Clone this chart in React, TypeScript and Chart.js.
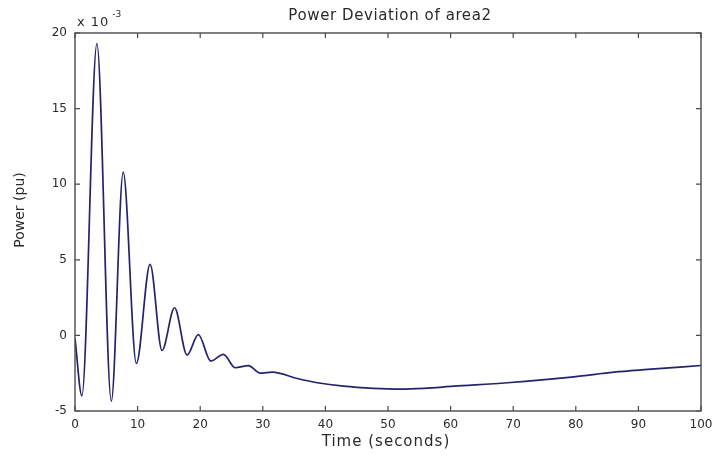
import React, { useEffect, useRef } from "react";
import { Chart, registerables } from "chart.js";

Chart.register(...registerables);

// Time axis (seconds) and power deviation (×10^-3 pu)
const timeSeconds = [
  0, 1.1, 3.5, 5.8, 7.7, 9.8, 12.0, 13.9, 15.9, 17.9, 19.7, 21.7, 23.7, 25.6,
  27.7, 29.6, 31.5, 35.5, 38.7, 42.9, 47.7, 52.0, 55.7, 60.5, 69.1, 79.7, 86.1,
  91.5, 100,
];
const powerDeviation = [
  -0.2, -4.0, 19.3, -4.35, 10.8, -1.85, 4.7, -1.0, 1.83, -1.3, 0.05, -1.7,
  -1.25, -2.14, -2.0, -2.5, -2.43, -2.85, -3.13, -3.36, -3.5, -3.55, -3.5,
  -3.36, -3.13, -2.74, -2.43, -2.25, -1.99,
];

const xRange = [0, 100];
const xStep = 10;
const yRange = [-5, 20];
const yStep = 5;

const chartTitle = "Power Deviation of area2";
const xTitle = "Time (seconds)";
const yTitle = "Power (pu)";
const scaleNote = "x 10";
const scaleExp = "-3";

const FONT = "'DejaVu Sans', 'Liberation Sans', sans-serif";
const TEXT = "#2a2a2a";

export default function App() {
  const ref = useRef<HTMLCanvasElement | null>(null);

  useEffect(() => {
    document.body.style.margin = "0";
    const canvas = ref.current;
    if (!canvas) return;

    const frame = {
      id: "matlabFrame",
      afterDatasetsDraw(chart: any) {
        const { ctx, chartArea } = chart;
        const { left, right, top, bottom } = chartArea;
        const xs = chart.scales.x;
        const ys = chart.scales.y;
        ctx.save();
        ctx.strokeStyle = "#4a4a4a";
        ctx.lineWidth = 1.4;
        ctx.strokeRect(left, top, right - left, bottom - top);
        ctx.lineWidth = 1.2;
        const tl = 5;
        ctx.beginPath();
        xs.ticks.forEach((t: any) => {
          const p = xs.getPixelForValue(t.value);
          ctx.moveTo(p, bottom);
          ctx.lineTo(p, bottom - tl);
          ctx.moveTo(p, top);
          ctx.lineTo(p, top + tl);
        });
        ys.ticks.forEach((t: any) => {
          const p = ys.getPixelForValue(t.value);
          ctx.moveTo(left, p);
          ctx.lineTo(left + tl, p);
          ctx.moveTo(right, p);
          ctx.lineTo(right - tl, p);
        });
        ctx.stroke();
        ctx.restore();
      },
      afterDraw(chart: any) {
        const { ctx, chartArea } = chart;
        const { left, right, top, bottom } = chartArea;
        const cx = (left + right) / 2;
        ctx.save();
        ctx.fillStyle = TEXT;
        ctx.textBaseline = "middle";
        ctx.textAlign = "center";
        ctx.font = `15px ${FONT}`;
        (ctx as any).letterSpacing = "0.6px";
        ctx.fillText(chartTitle, cx + 2, top - 17);
        (ctx as any).letterSpacing = "1px";
        ctx.fillText(xTitle, cx - 2, bottom + 31);
        (ctx as any).letterSpacing = "0px";
        // y title
        ctx.save();
        ctx.font = `14px ${FONT}`;
        ctx.translate(20, 210);
        ctx.rotate(-Math.PI / 2);
        ctx.fillText(yTitle, 0, 0);
        ctx.restore();
        // scale note
        ctx.textAlign = "left";
        ctx.font = `13px ${FONT}`;
        (ctx as any).letterSpacing = "1px";
        ctx.fillText(scaleNote, left + 2, top - 10);
        const w = ctx.measureText(scaleNote).width;
        (ctx as any).letterSpacing = "0px";
        ctx.font = `9px ${FONT}`;
        ctx.fillText(scaleExp, left + 5 + w, top - 18);
        ctx.restore();
      },
    };

    const chart = new Chart(canvas, {
      type: "line",
      data: {
        datasets: [
          {
            data: timeSeconds.map((t, i) => ({ x: t, y: powerDeviation[i] })),
            borderColor: "#24246e",
            borderWidth: 1.7,
            pointRadius: 0,
            cubicInterpolationMode: "monotone",
            fill: false,
          },
        ],
      },
      options: {
        animation: false,
        responsive: false,
        maintainAspectRatio: false,
        layout: { padding: { left: 0, right: 11, top: 33, bottom: 0 } },
        plugins: {
          legend: { display: false },
          tooltip: { enabled: false },
          title: { display: false },
        },
        scales: {
          x: {
            type: "linear",
            min: xRange[0],
            max: xRange[1],
            grid: { display: false, drawTicks: false },
            border: { display: false },
            ticks: {
              stepSize: xStep,
              padding: 7,
              maxRotation: 0,
              autoSkip: false,
              color: TEXT,
              font: { family: FONT, size: 12 },
            },
            afterFit(scale: any) {
              scale.height = 45;
              scale.paddingLeft = 0;
              scale.paddingRight = 0;
            },
          },
          y: {
            type: "linear",
            min: yRange[0],
            max: yRange[1],
            grid: { display: false, drawTicks: false },
            border: { display: false },
            ticks: {
              stepSize: yStep,
              padding: 8,
              autoSkip: false,
              color: TEXT,
              font: { family: FONT, size: 12 },
            },
            afterFit(scale: any) {
              scale.width = 75;
              scale.paddingTop = 0;
              scale.paddingBottom = 0;
            },
          },
        },
      },
      plugins: [frame],
    });

    return () => chart.destroy();
  }, []);

  return (
    <canvas
      ref={ref}
      width={712}
      height={456}
      style={{ display: "block", width: 712, height: 456 }}
    />
  );
}
